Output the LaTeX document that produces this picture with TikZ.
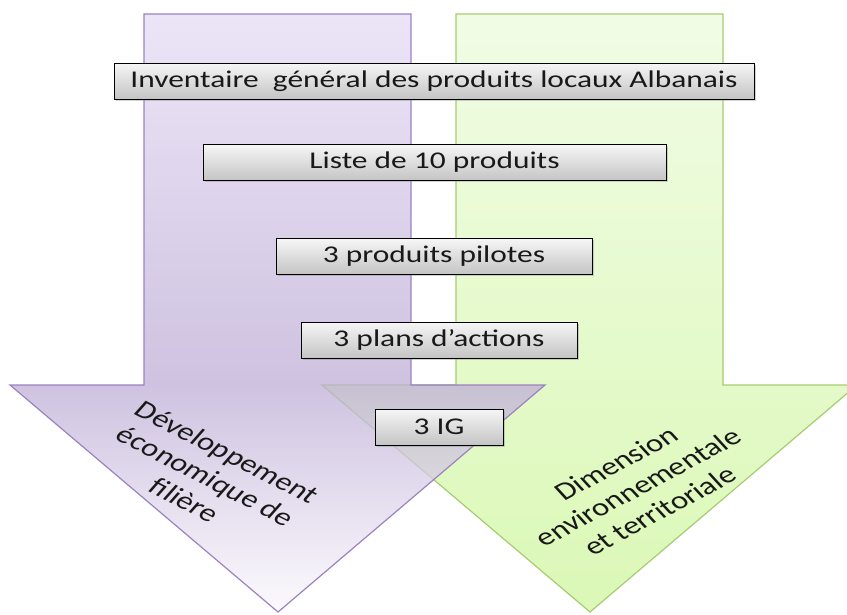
\documentclass[tikz,border=0pt]{standalone}
\usepackage{fontspec}
\setmainfont{Carlito}
\newfontfamily\etirefont{Carlito}[FakeStretch=1.31]
\usepackage{tikz}
\usetikzlibrary{shadows}
\definecolor{violetTrait}{RGB}{155,130,192}
\definecolor{violetHaut}{RGB}{230,220,244}
\definecolor{violetMilieu}{RGB}{190,174,214}
\definecolor{violetBas}{RGB}{250,248,252}
\definecolor{vertTrait}{RGB}{166,204,112}
\definecolor{vertHaut}{RGB}{241,252,229}
\definecolor{vertBas}{RGB}{219,248,182}
\definecolor{grisHaut}{RGB}{246,246,246}
\definecolor{grisBas}{RGB}{196,196,196}
%% degrades verticaux des fleches (25bp = bas, 75bp = haut)
\pgfdeclareverticalshading{degradeViolet}{100bp}{color(0bp)=(violetBas); color(25bp)=(violetBas); color(44bp)=(violetMilieu); color(75bp)=(violetHaut); color(100bp)=(violetHaut)}
\pgfdeclareverticalshading{degradeVert}{100bp}{color(0bp)=(vertBas); color(25bp)=(vertBas); color(75bp)=(vertHaut); color(100bp)=(vertHaut)}
\begin{document}
\begin{tikzpicture}[x=1pt,y=-1pt,
  %%Configuracion
  fleche/.style = {line width=1.2pt, line join=miter},
  flecheViolet/.style = {fleche, draw=violetTrait, shading=degradeViolet, fill opacity=0.75},
  flecheVert/.style = {fleche, draw=vertTrait, shading=degradeVert},
  etape/.style = {draw=black, line width=1pt, top color=grisHaut, bottom color=grisBas,
    inner sep=0pt, minimum height=36pt, font=\etirefont\fontsize{24}{28}\selectfont,
    text=black!90, drop shadow={shadow xshift=1.5pt, shadow yshift=-1.5pt, opacity=0.35}},
  axe/.style = {align=center, font=\fontsize{25}{29}\selectfont, text=black!90}
  ]
  \useasboundingbox (0,0) rectangle (847,614);
  \clip (0,0) rectangle (847,614);
  %%Fleches
  \draw [flecheVert] (456,14) -- (723,14) -- (723,385) -- (857,385) -- (590,612)
    -- (322,385) -- (456,385) -- cycle;
  \draw [flecheViolet] (144,14) -- (411,14) -- (411,385) -- (545,385) -- (278,612)
    -- (10,385) -- (144,385) -- cycle;
  %%Etapes
  \node [etape, minimum width=640pt] (inventaire) at (434,81) {Inventaire\ \ général des produits locaux Albanais};
  \node [etape, minimum width=463pt] (liste) at (434.5,162.5) {Liste de 10 produits};
  \node [etape, minimum width=316pt] (pilotes) at (434,256.5) {3 produits pilotes};
  \node [etape, minimum width=276pt] (plans) at (439,340) {3 plans d’actions};
  \node [etape, minimum width=128pt] (ig) at (439,427) {3 IG};
  %%Axes
  \node [axe, xscale=1.31, rotate=-34] (economie) at (206,476) {Développement\\économique de\\filière};
  \node [axe, xscale=1.31, rotate=35] (environnement) at (638,487) {Dimension\\environnementale\\et territoriale};
\end{tikzpicture}
\end{document}
